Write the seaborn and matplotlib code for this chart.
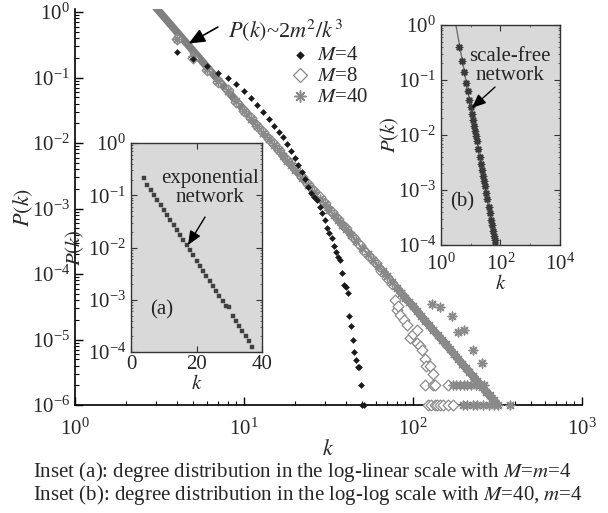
import matplotlib
matplotlib.use("Agg")
import matplotlib.pyplot as plt
import seaborn as sns
from matplotlib.ticker import LogLocator, FixedLocator, NullFormatter

# ---------------- data ----------------
# theoretical line P(k) ~ 2 m^2 / k^3 (m = 4), straight line on log-log axes
line_k = [2.9, 317.0]
line_p = [1.31, 1.0e-6]

m4_k = [4, 5, 6, 7, 8, 9, 10, 11, 12, 13, 14, 15, 16, 17, 18, 19, 20, 21, 22, 23,
        24, 25, 26, 27, 28, 29, 30, 31, 32, 33, 34, 35, 36, 37, 38, 39, 40, 41, 42,
        43, 44, 45, 46, 47, 48, 49, 50, 51]
m4_p = [0.245, 0.19, 0.148, 0.117, 0.098, 0.080, 0.063, 0.049, 0.038, 0.030,
        0.0234, 0.0182, 0.0148, 0.0123, 0.0095, 0.0076, 0.0060, 0.0047, 0.0036,
        0.0028, 0.0021, 0.0017, 0.0015, 0.00135, 0.00107, 0.00085, 0.00066,
        0.00050, 0.00042, 0.00035, 0.00027, 0.00022, 0.00018, 0.000162, 0.000105,
        0.000068, 0.000063, 0.000051, 0.000023, 0.000016, 0.0000100, 0.0000065,
        0.0000049, 0.0000038, 0.0000038, 0.0000020, 0.0000010, 0.0000010]

m8_k = [4, 5, 6, 7, 8, 9, 10, 11, 12, 13, 14, 15, 16, 18, 20, 22, 24, 26, 28, 30,
        33, 36, 40, 44, 48, 52, 56, 60, 65, 70, 75, 78, 80, 82, 84, 88, 92, 96, 100,
        105, 106, 110, 113, 117, 117, 120, 126, 131, 131, 135, 161,
        123, 128, 134, 139, 145, 150, 160, 172]
m8_p = [0.39, 0.20, 0.13, 0.085, 0.065, 0.043, 0.031, 0.024, 0.0183, 0.0147,
        0.0117, 0.0095, 0.0079, 0.0056, 0.0041, 0.0030, 0.00235, 0.00183, 0.00148,
        0.00120, 0.00090, 0.00069, 0.00050, 0.00037, 0.00029, 0.00022, 0.00018,
        0.000145, 0.000112, 0.000088, 0.000070, 0.000040, 0.000028, 0.000032,
        0.000024, 0.000020, 0.0000166, 0.0000105, 0.000012, 0.000014, 0.000009,
        0.000008, 0.000007, 0.000005, 0.000002, 0.000004, 0.000004, 0.000003,
        0.000002, 0.000002, 0.000002,
        1e-6, 1e-6, 1e-6, 1e-6, 1e-6, 1e-6, 1e-6, 1e-6]

m40_k = [4, 5, 6, 7, 8, 9, 10, 11, 12, 13, 14, 15, 16, 17, 18, 19, 20, 22, 24, 26,
         28, 30, 32, 34, 36, 38, 40, 43, 46, 50, 54, 58, 62, 66, 70, 75, 80, 85, 90,
         95, 100, 106, 112, 118, 125, 132, 140, 148, 156, 165, 175, 185, 195, 205,
         215, 225, 240, 255, 270, 285, 300,
         130, 144, 170, 185, 200, 226, 256,
         172, 180, 190, 200, 210, 220, 235, 250, 262,
         197, 210, 225, 240, 260, 280, 300, 320, 375]
m40_p = [0.39, 0.21, 0.135, 0.09, 0.062, 0.044, 0.031, 0.0235, 0.018, 0.0144,
         0.0115, 0.0093, 0.0077, 0.0064, 0.0054, 0.0046, 0.0039, 0.0029, 0.00225,
         0.00177, 0.00142, 0.00116, 0.00096, 0.00080, 0.00067, 0.00057, 0.00049,
         0.00040, 0.00032, 0.00025, 0.000200, 0.000162, 0.000133, 0.000110,
         0.0000920, 0.0000750, 0.0000610, 0.0000520, 0.0000430, 0.0000370,
         0.0000320, 0.0000270, 0.0000230, 0.0000190, 0.0000165, 0.0000140,
         0.0000118, 0.0000098, 0.0000085, 0.0000071, 0.0000060, 0.0000050,
         0.0000043, 0.0000037, 0.0000032, 0.0000028, 0.0000023, 0.0000019,
         0.0000016, 0.0000014, 0.0000012,
         0.000035, 0.000031, 0.000023, 0.000013, 0.000014, 0.000007, 0.0000044,
         2e-6, 2e-6, 2e-6, 2e-6, 2e-6, 2e-6, 2e-6, 2e-6, 2e-6,
         1e-6, 1e-6, 1e-6, 1e-6, 1e-6, 1e-6, 1e-6, 1e-6, 1e-6]

# inset (a): exponential network, log-linear
exp_k = [4, 5, 6, 7, 8, 9, 10, 11, 12, 13, 14, 15, 16, 17, 18, 19, 20, 21, 22,
         23, 24, 25, 26, 27, 28, 29, 30, 31, 32, 33, 34, 35, 36, 37]
exp_p = [0.21, 0.16, 0.128, 0.102, 0.082, 0.066, 0.052, 0.042, 0.034, 0.027,
         0.0215, 0.0172, 0.0138, 0.011, 0.0088, 0.0071, 0.0056, 0.0045, 0.0036,
         0.0029, 0.0023, 0.00185, 0.00148, 0.00118, 0.00095, 0.00076, 0.00072,
         0.00049, 0.00039, 0.00031, 0.00025, 0.00020, 0.00016, 0.000125]

# inset (b): scale-free network, log-log
sf_k = [4, 5, 6, 7, 8, 9, 10, 11, 12, 13, 14, 15, 16, 18, 20, 22, 24, 26, 28, 30,
        33, 36, 40, 44, 48, 52, 56, 60, 64, 68]
sf_p = [0.40, 0.22, 0.14, 0.09, 0.062, 0.044, 0.032, 0.024, 0.0185, 0.0145,
        0.0117, 0.0095, 0.0078, 0.0055, 0.0040, 0.0030, 0.0023, 0.00182, 0.00146,
        0.00119, 0.00089, 0.00069, 0.00050, 0.00038, 0.00029, 0.00023, 0.00018,
        0.000148, 0.000122, 0.000102]
sf_line_k = [2.9, 75.0]
sf_line_p = [1.31, 7.6e-5]

# ---------------- style ----------------
sns.set_style("white")
plt.rcParams['font.family'] = ['Liberation Serif', 'DejaVu Serif']
plt.rcParams['mathtext.fontset'] = 'stix'

FS = 15
fig = plt.figure(figsize=(6.08, 5.13), dpi=100)

# ---------------- main axes ----------------
ax = fig.add_axes([0.1234, 0.2105, 0.8339, 0.7713])
ax.set_xscale('log')
ax.set_yscale('log')
ax.set_xlim(1, 1000)
ax.set_ylim(1e-6, 1.1)

sns.lineplot(x=line_k, y=line_p, ax=ax, color='#808080', linewidth=5.5,
             solid_capstyle='butt', zorder=2)
sns.scatterplot(x=m8_k, y=m8_p, ax=ax, marker='D', s=30, color='white',
                edgecolor='#8a8a8a', linewidth=0.9, zorder=3, clip_on=False,
                label='$M$=8')
sns.scatterplot(x=m40_k, y=m40_p, ax=ax, marker=(8, 2, 0), s=38, color='#8a8a8a',
                linewidth=1.1, zorder=4, clip_on=False, label='$M$=40')
sns.scatterplot(x=m4_k, y=m4_p, ax=ax, marker='D', s=9, color='#1a1a1a',
                edgecolor='#1a1a1a', linewidth=0.4, zorder=5, clip_on=False,
                label='$M$=4')

for sp in ['top', 'right']:
    ax.spines[sp].set_visible(False)
for sp in ['left', 'bottom']:
    ax.spines[sp].set_color('black')
    ax.spines[sp].set_linewidth(1.2)
ax.xaxis.set_major_locator(LogLocator(base=10, numticks=10))
ax.xaxis.set_minor_locator(LogLocator(base=10, subs=range(2, 10), numticks=20))
ax.yaxis.set_major_locator(LogLocator(base=10, numticks=10))
ax.yaxis.set_minor_locator(LogLocator(base=10, subs=range(2, 10), numticks=20))
ax.xaxis.set_minor_formatter(NullFormatter())
ax.yaxis.set_minor_formatter(NullFormatter())
ax.tick_params(which='both', direction='in', labelsize=FS, color='black',
               bottom=True, left=True)
ax.tick_params(which='major', length=6, width=1)
ax.tick_params(which='minor', length=3, width=0.8)
ax.tick_params(axis='x', which='major', pad=10)
ax.set_xlabel('$k$', fontsize=FS + 1, labelpad=0)
ax.set_ylabel('$P(k)$', fontsize=FS + 1, labelpad=-2)

handles, labels = ax.get_legend_handles_labels()
order = [labels.index('$M$=4'), labels.index('$M$=8'), labels.index('$M$=40')]
ax.legend([handles[i] for i in order], [labels[i] for i in order],
          loc='upper left', bbox_to_anchor=(0.39, 0.945), frameon=False,
          fontsize=FS, handletextpad=0.2, labelspacing=0.05, borderpad=0.2,
          handlelength=1.2, markerscale=1.3)

ax.annotate('', xy=(4.7, 0.33), xytext=(7.0, 0.59),
            arrowprops=dict(arrowstyle='-|>,head_length=0.7,head_width=0.3',
                            color='black', lw=1.2, mutation_scale=14,
                            shrinkA=0, shrinkB=0))
ax.text(8.0, 0.53, '$P(k)$~2$m^2/k^3$', fontsize=FS + 1, ha='left', va='center')

# ---------------- inset (a) ----------------
axa = fig.add_axes([0.2155, 0.3138, 0.2155, 0.4074])
axa.set_facecolor('#d9d9d9')
axa.set_yscale('log')
axa.set_xlim(0, 40)
axa.set_ylim(1e-4, 1)
sns.scatterplot(x=exp_k, y=exp_p, ax=axa, marker='s', s=10, color='#404040',
                edgecolor='#404040', linewidth=0.3, zorder=3)
axa.xaxis.set_major_locator(FixedLocator([0, 20, 40]))
axa.yaxis.set_major_locator(LogLocator(base=10, numticks=10))
axa.yaxis.set_minor_locator(LogLocator(base=10, subs=range(2, 10), numticks=20))
axa.yaxis.set_minor_formatter(NullFormatter())
axa.tick_params(which='both', direction='in', labelsize=FS, top=True, right=True,
                bottom=True, left=True, color='#333333')
axa.tick_params(which='major', length=4, width=0.8)
axa.tick_params(which='minor', length=1.5, width=0.5)
axa.tick_params(axis='x', pad=2)
for sp in axa.spines.values():
    sp.set_color('#333333')
    sp.set_linewidth(1.0)
axa.set_xlabel('$k$', fontsize=FS, labelpad=1)
axa.set_ylabel('$P(k)$', fontsize=FS, labelpad=1)
axa.text(0.603, 0.785, 'exponential\nnetwork', transform=axa.transAxes,
         fontsize=FS, ha='center', va='center', linespacing=0.95)
axa.annotate('', xy=(0.435, 0.512), xytext=(0.565, 0.646),
             xycoords='axes fraction', textcoords='axes fraction',
             arrowprops=dict(arrowstyle='-|>,head_length=0.7,head_width=0.3',
                             color='black', lw=1.0, mutation_scale=12,
                             shrinkA=0, shrinkB=0))
axa.text(0.237, 0.201, '(a)', transform=axa.transAxes, fontsize=FS,
         ha='center', va='center')

# ---------------- inset (b) ----------------
axb = fig.add_axes([0.7253, 0.5224, 0.1957, 0.4288])
axb.set_facecolor('#d9d9d9')
axb.set_xscale('log')
axb.set_yscale('log')
axb.set_xlim(1, 1e4)
axb.set_ylim(1e-4, 1)
sns.lineplot(x=sf_line_k, y=sf_line_p, ax=axb, color='#707070', linewidth=1.0,
             zorder=2)
sns.scatterplot(x=sf_k, y=sf_p, ax=axb, marker=(8, 2, 0), s=20, color='#3a3a3a',
                linewidth=1.1, zorder=3)
axb.xaxis.set_major_locator(FixedLocator([1, 100, 1e4]))
axb.xaxis.set_minor_locator(FixedLocator([10, 1000]))
axb.xaxis.set_minor_formatter(NullFormatter())
axb.yaxis.set_major_locator(LogLocator(base=10, numticks=10))
axb.yaxis.set_minor_locator(LogLocator(base=10, subs=range(2, 10), numticks=20))
axb.yaxis.set_minor_formatter(NullFormatter())
axb.tick_params(which='both', direction='in', labelsize=FS, top=True, right=True,
                bottom=True, left=True, color='#333333')
axb.tick_params(which='major', length=4, width=0.8)
axb.tick_params(which='minor', length=1.5, width=0.5)
axb.tick_params(axis='x', pad=6)
for sp in axb.spines.values():
    sp.set_color('#333333')
    sp.set_linewidth(1.0)
axb.set_xlabel('$k$', fontsize=FS, labelpad=0)
axb.set_ylabel('$P(k)$', fontsize=FS, labelpad=-2)
axb.text(0.58, 0.814, 'scale-free\nnetwork', transform=axb.transAxes,
         fontsize=FS, ha='center', va='center', linespacing=0.95)
axb.annotate('', xy=(0.26, 0.623), xytext=(0.454, 0.718),
             xycoords='axes fraction', textcoords='axes fraction',
             arrowprops=dict(arrowstyle='-|>,head_length=0.7,head_width=0.3',
                             color='black', lw=1.0, mutation_scale=12,
                             shrinkA=0, shrinkB=0))
axb.text(0.176, 0.195, '(b)', transform=axb.transAxes, fontsize=FS,
         ha='center', va='center')

# ---------------- caption ----------------
fig.text(0.054, 0.080, 'Inset (a): degree distribution in the log-linear scale with $M$=$m$=4',
         fontsize=FS, ha='left', va='center')
fig.text(0.054, 0.035, 'Inset (b): degree distribution in the log-log scale with $M$=40, $m$=4',
         fontsize=FS, ha='left', va='center')

fig.savefig('out.png', dpi=100)
